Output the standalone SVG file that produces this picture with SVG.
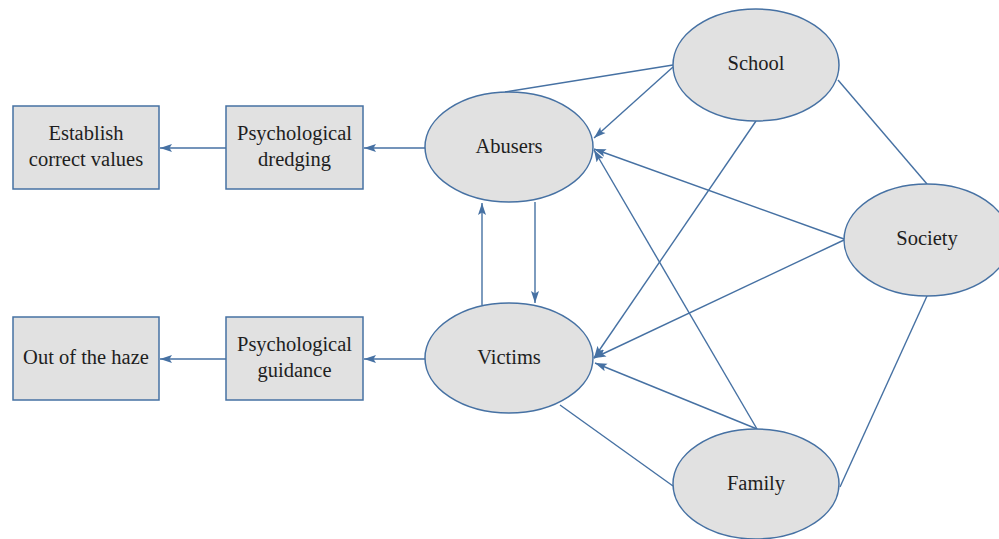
<svg xmlns="http://www.w3.org/2000/svg" width="999" height="539" viewBox="0 0 999 539">
<defs>
<marker id="arr" markerWidth="13" markerHeight="9" refX="12" refY="4.5" orient="auto" markerUnits="userSpaceOnUse">
<path d="M0,0.5 L12,4.5 L0,8.5 L2.5,4.5 z" fill="#4671a3"/>
</marker>
<style>
.box{fill:#e1e1e1;stroke:#4671a3;stroke-width:1.5}
.ell{fill:#e1e1e1;stroke:#4671a3;stroke-width:1.5}
text{font-family:'Liberation Serif','Times New Roman','DejaVu Serif',serif;font-size:20.5px;fill:#1e1e1e;text-anchor:middle}
.c{stroke:#4671a3;stroke-width:1.4;fill:none}
.a{marker-end:url(#arr)}
</style>
</defs>
<rect width="999" height="539" fill="#ffffff"/>
<g id="connectors">
<line class="c a" x1="425" y1="148" x2="364" y2="148"/>
<line class="c a" x1="226" y1="148" x2="160" y2="148"/>
<line class="c a" x1="425" y1="359" x2="364" y2="359"/>
<line class="c a" x1="226" y1="359" x2="160" y2="359"/>
<line class="c a" x1="535" y1="202" x2="535" y2="303"/>
<line class="c a" x1="482" y1="305" x2="482" y2="203"/>
<line class="c" x1="673" y1="65" x2="505" y2="92"/>
<line class="c a" x1="673" y1="67" x2="594" y2="138"/>
<line class="c a" x1="756" y1="121" x2="594" y2="358"/>
<line class="c" x1="838" y1="80" x2="927" y2="184"/>
<line class="c a" x1="844" y1="239" x2="594" y2="149"/>
<line class="c a" x1="844" y1="240" x2="594" y2="358"/>
<line class="c" x1="927" y1="296" x2="840" y2="487"/>
<line class="c a" x1="757" y1="429" x2="594" y2="150"/>
<line class="c a" x1="757" y1="429" x2="595" y2="363"/>
<line class="c" x1="560" y1="405" x2="673" y2="486"/>
</g>
<g id="establish">
<rect class="box" x="13" y="106" width="146" height="83"/>
<text x="86" y="140" font-family="Liberation Serif, serif">Establish</text>
<text x="86" y="166" font-family="Liberation Serif, serif">correct values</text>
</g>
<g id="dredging">
<rect class="box" x="226" y="106" width="137" height="83"/>
<text x="294.5" y="140" font-family="Liberation Serif, serif">Psychological</text>
<text x="294.5" y="166" font-family="Liberation Serif, serif">dredging</text>
</g>
<g id="haze">
<rect class="box" x="13" y="317" width="146" height="83"/>
<text x="86" y="364" font-family="Liberation Serif, serif">Out of the haze</text>
</g>
<g id="guidance">
<rect class="box" x="226" y="317" width="137" height="83"/>
<text x="294.5" y="351" font-family="Liberation Serif, serif">Psychological</text>
<text x="294.5" y="377" font-family="Liberation Serif, serif">guidance</text>
</g>
<g id="abusers">
<ellipse class="ell" cx="509" cy="147" rx="84" ry="55"/>
<text x="509" y="153" font-family="Liberation Serif, serif">Abusers</text>
</g>
<g id="victims">
<ellipse class="ell" cx="509" cy="358" rx="84" ry="55"/>
<text x="509" y="364" font-family="Liberation Serif, serif">Victims</text>
</g>
<g id="school">
<ellipse class="ell" cx="756" cy="65" rx="83" ry="56"/>
<text x="756" y="70" font-family="Liberation Serif, serif">School</text>
</g>
<g id="society">
<ellipse class="ell" cx="927" cy="240" rx="83" ry="56"/>
<text x="927" y="245" font-family="Liberation Serif, serif">Society</text>
</g>
<g id="family">
<ellipse class="ell" cx="756" cy="484" rx="83" ry="55"/>
<text x="756" y="490" font-family="Liberation Serif, serif">Family</text>
</g>
</svg>
